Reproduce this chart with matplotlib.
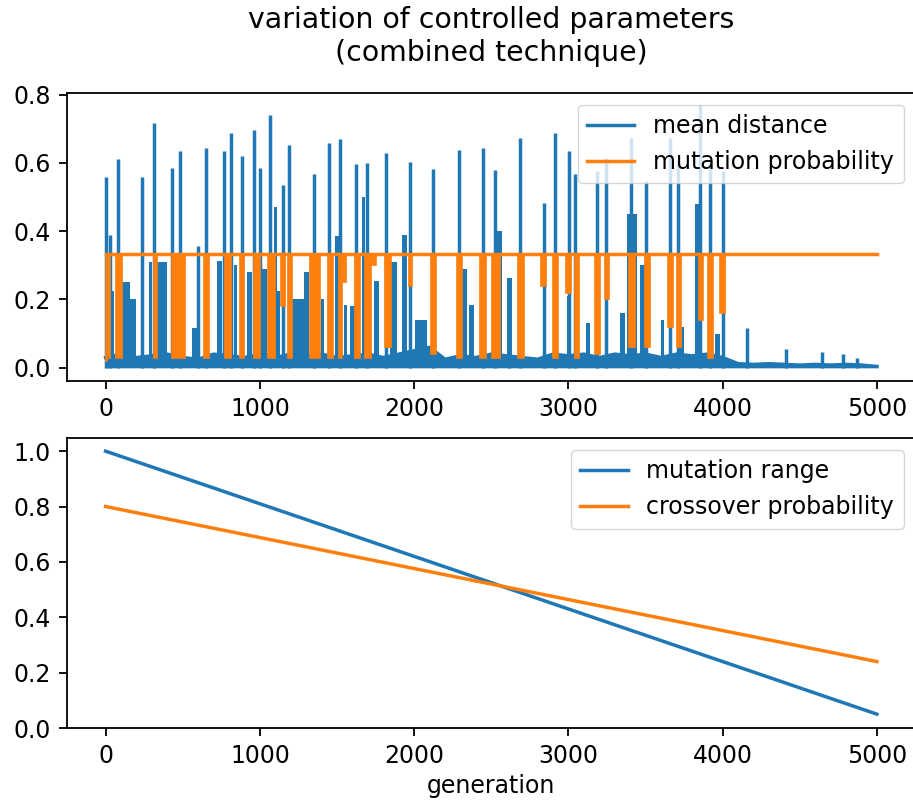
import matplotlib
matplotlib.use('Agg')
import matplotlib.pyplot as plt
import numpy as np

# --- data ---
# mean distance: quiet baseline (upper edge of the fuzzy band), sampled every 100 generations
base_gen = list(range(0, 5001, 100))
base_hi = [0.03, 0.04, 0.03, 0.035, 0.04, 0.03, 0.025, 0.04, 0.035, 0.03,
           0.04, 0.03, 0.04, 0.035, 0.04, 0.03, 0.035, 0.04, 0.03, 0.04,
           0.05, 0.06, 0.025, 0.035, 0.03, 0.04, 0.035, 0.03, 0.025, 0.04,
           0.035, 0.04, 0.03, 0.04, 0.035, 0.04, 0.03, 0.04, 0.035, 0.04,
           0.03, 0.012, 0.01, 0.012, 0.01, 0.008, 0.01, 0.008, 0.01, 0.008, 0.004]

# mean distance: sharp spikes (generation, peak)
spike_gen = [0, 26, 80, 233, 313, 432, 481, 600, 648, 766, 814, 881, 965, 1000, 1066,
             1151, 1187, 1354, 1451, 1518, 1626, 1695, 1820, 1975, 2120, 2289, 2446,
             2526, 2617, 2688, 2839, 2915, 3001, 3044, 3184, 3245, 3405, 3504, 3659,
             3713, 3854, 3918, 4000, 4160, 4411, 4641, 4777, 4868]
spike_peak = [0.56, 0.39, 0.61, 0.56, 0.716, 0.585, 0.634, 0.356, 0.643, 0.634, 0.687,
              0.619, 0.697, 0.585, 0.739, 0.536, 0.653, 0.566, 0.658, 0.670, 0.596, 0.60,
              0.629, 0.602, 0.582, 0.638, 0.643, 0.58, 0.264, 0.674, 0.483, 0.687, 0.636,
              0.566, 0.577, 0.614, 0.672, 0.546, 0.672, 0.604, 0.77, 0.604, 0.575, 0.118,
              0.055, 0.045, 0.04, 0.03]

# mean distance: dense stretches at a lower level (start, end, level)
block_start = [32, 85, 108, 160, 281, 330, 561, 723, 830, 917, 983, 1090, 1090, 1209, 1284,
               1393, 1490, 1544, 1587, 1662, 1738, 1846, 1922, 2008, 2310, 2353, 2526, 2601,
               2990, 3115, 3335, 3379, 3465, 3600, 3724, 3821, 3951]
block_end = [54, 95, 160, 200, 300, 400, 615, 756, 850, 950, 1047, 1112, 1133, 1284, 1317,
             1415, 1512, 1565, 1619, 1684, 1770, 1889, 1954, 2083, 2342, 2385, 2569, 2634,
             3012, 3141, 3367, 3444, 3497, 3620, 3746, 3843, 3983]
block_level = [0.225, 0.45, 0.25, 0.2, 0.31, 0.31, 0.118, 0.313, 0.3, 0.28, 0.29, 0.47, 0.225,
               0.2, 0.28, 0.2, 0.385, 0.185, 0.18, 0.5, 0.255, 0.31, 0.39, 0.14, 0.29, 0.185,
               0.4, 0.264, 0.21, 0.13, 0.16, 0.45, 0.3, 0.14, 0.12, 0.48, 0.1]

# mutation probability: high level and the stretches where it drops (start, end, low value)
mut_gen = [0, 5000]
mut_high = [1 / 3, 1 / 3]
dip_start = [0, 20, 65, 313, 430, 637, 777, 868, 961, 1052, 1138, 1181, 1328, 1442, 1511,
             1530, 1615, 1679, 1721, 1809, 1965, 2109, 2278, 2429, 2505, 2671, 2824, 2899,
             2985, 3040, 3174, 3238, 3390, 3498, 3648, 3703, 3843, 3907, 3983]
dip_end = [10, 30, 104, 335, 515, 670, 814, 900, 1004, 1101, 1166, 1209, 1388, 1474, 1530,
           1561, 1647, 1721, 1750, 1852, 1986, 2142, 2310, 2468, 2558, 2710, 2856, 2929,
           3015, 3066, 3206, 3260, 3433, 3530, 3677, 3729, 3871, 3935, 4016]
dip_low = [0.02, 0.03, 0.03, 0.03, 0.03, 0.03, 0.03, 0.03, 0.03, 0.03, 0.18, 0.03, 0.03,
           0.03, 0.03, 0.25, 0.03, 0.03, 0.30, 0.06, 0.24, 0.04, 0.03, 0.03, 0.03, 0.03,
           0.24, 0.03, 0.22, 0.03, 0.04, 0.20, 0.06, 0.06, 0.12, 0.06, 0.14, 0.03, 0.16]

# bottom panel
gen_ends = [0, 4999]
mutation_range = [1.0, 0.05]
crossover_prob = [0.8, 0.24]

blue = '#1f77b4'
orange = '#ff7f0e'

plt.rcParams['font.size'] = 17
plt.rcParams['axes.linewidth'] = 1.3
for k in ('xtick', 'ytick'):
    plt.rcParams[k + '.major.size'] = 5.8
    plt.rcParams[k + '.major.width'] = 1.3
    plt.rcParams[k + '.major.pad'] = 5.8

fig = plt.figure(figsize=(9.13, 8.0), dpi=100)
ax1 = fig.add_axes([0.0734, 0.524, 0.9293, 0.360])
ax2 = fig.add_axes([0.0734, 0.09, 0.9293, 0.3625])

# top panel: mean distance (blue) under mutation probability (orange)
ax1.fill_between(base_gen, 0, base_hi, color=blue, linewidth=0, zorder=2)
ax1.plot(base_gen, base_hi, color=blue, linewidth=2.5, label='mean distance', zorder=2)
ax1.vlines(spike_gen, 0, spike_peak, color=blue, linewidth=2.5, zorder=2)
ax1.bar(block_start, block_level, width=np.subtract(block_end, block_start),
        align='edge', color=blue, linewidth=0, zorder=2)
ax1.plot(mut_gen, mut_high, color=orange, linewidth=2.5, label='mutation probability', zorder=3)
ax1.bar(dip_start, np.subtract(1 / 3, dip_low), bottom=dip_low,
        width=np.subtract(dip_end, dip_start), align='edge', color=orange,
        edgecolor=orange, linewidth=1.2, zorder=3)
ax1.set_xlim(-250, 5249)
ax1.set_ylim(-0.038, 0.805)
ax1.set_yticks([0.0, 0.2, 0.4, 0.6, 0.8])
ax1.set_xticks([0, 1000, 2000, 3000, 4000, 5000])
ax1.legend(loc='upper right')
ax1.set_title('variation of controlled parameters\n(combined technique)', fontsize=20.4, pad=23)

# bottom panel
ax2.plot(gen_ends, mutation_range, color=blue, linewidth=2.5, label='mutation range')
ax2.plot(gen_ends, crossover_prob, color=orange, linewidth=2.5, label='crossover probability')
ax2.set_xlim(-250, 5249)
ax2.set_ylim(0, 1.0475)
ax2.set_xticks([0, 1000, 2000, 3000, 4000, 5000])
ax2.set_xlabel('generation')
ax2.legend(loc='upper right')

fig.savefig('out.png', dpi=100)
